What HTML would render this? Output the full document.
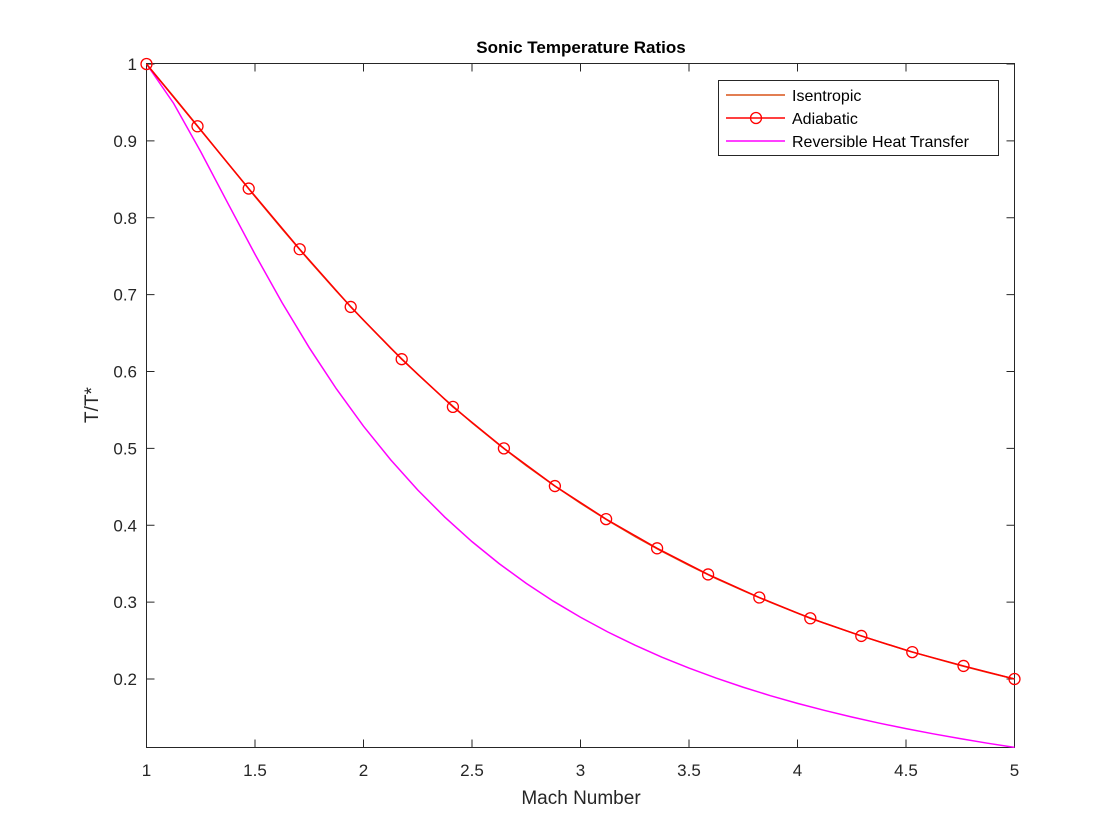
<!DOCTYPE html>
<html><head><meta charset="utf-8"><style>
body{margin:0;background:#fff;}
svg{display:block;font-family:"Liberation Sans",Helvetica,Arial,sans-serif;}
</style></head><body>
<svg id="chart" width="1120" height="840" viewBox="0 0 1120 840" xmlns="http://www.w3.org/2000/svg">
<rect width="1120" height="840" fill="#fff"/>
<g id="plot"></g>
</svg>
<script>
const machLine = [1,1.125,1.25,1.375,1.5,1.625,1.75,1.875,2,2.125,2.25,2.375,2.5,2.625,2.75,2.875,3,3.125,3.25,3.375,3.5,3.625,3.75,3.875,4,4.125,4.25,4.375,4.5,4.625,4.75,4.875,5];
const isentropic = [1,0.9576,0.9143,0.8707,0.8276,0.7853,0.7442,0.7046,0.6667,0.6305,0.5963,0.5639,0.5333,0.5046,0.4776,0.4523,0.4286,0.4063,0.3855,0.3661,0.3478,0.3307,0.3148,0.2998,0.2857,0.2725,0.2602,0.2485,0.2376,0.2274,0.2177,0.2086,0.2];
const rayleigh = [1,0.9488,0.8858,0.8188,0.7525,0.6895,0.6310,0.5774,0.5289,0.4852,0.4458,0.4105,0.3787,0.3501,0.3244,0.3012,0.2803,0.2613,0.2441,0.2284,0.2142,0.2012,0.1893,0.1783,0.1683,0.1591,0.1506,0.1427,0.1354,0.1287,0.1224,0.1165,0.1111];
const machMarkers = [1,1.235,1.471,1.706,1.941,2.176,2.412,2.647,2.882,3.118,3.353,3.588,3.824,4.059,4.294,4.529,4.765,5];
const adiabatic = [1,0.919,0.838,0.759,0.684,0.616,0.554,0.500,0.451,0.408,0.370,0.336,0.306,0.279,0.256,0.235,0.217,0.200];
const xTicks = [1,1.5,2,2.5,3,3.5,4,4.5,5];
const xTickLabels = ["1","1.5","2","2.5","3","3.5","4","4.5","5"];
const yTicks = [0.2,0.3,0.4,0.5,0.6,0.7,0.8,0.9,1];
const yTickLabels = ["0.2","0.3","0.4","0.5","0.6","0.7","0.8","0.9","1"];

const L=146.5,R=1014.5,T=63.5,B=747.5;
const xS=v=>L+(v-1)/4*(R-L);
const yS=v=>64+(1-v)/0.8*615;
const NS="http://www.w3.org/2000/svg";
const g=document.getElementById('plot');
function mk(tag,attrs,parent){const e=document.createElementNS(NS,tag);for(const k in attrs)e.setAttribute(k,attrs[k]);(parent||g).appendChild(e);return e;}

const box=mk('rect',{x:L,y:T,width:R-L,height:B-T,fill:'#fff',stroke:'#262626','stroke-width':1});



xTicks.forEach((t,i)=>{
  const x=xS(t);
  const a=mk('line',{x1:x,y1:B,x2:x,y2:B-8,stroke:'#262626'});
  
  
  const b=mk('line',{x1:x,y1:T,x2:x,y2:T+8,stroke:'#262626'});
  
  
  const tx=mk('text',{x:x,y:776,'text-anchor':'middle','font-size':17,fill:'#262626'});
  tx.textContent=xTickLabels[i];
  
  
});
yTicks.forEach((t,i)=>{
  const y=yS(t);
  const a=mk('line',{x1:L,y1:y,x2:L+8,y2:y,stroke:'#262626'});
  
  
  const b=mk('line',{x1:R,y1:y,x2:R-8,y2:y,stroke:'#262626'});
  
  
  const tx=mk('text',{x:137,y:y+6,'text-anchor':'end','font-size':17,fill:'#262626'});
  tx.textContent=yTickLabels[i];
  
  
});

function line(xs,ys,color,name){
  const d=xs.map((v,i)=>(i?'L':'M')+xS(v).toFixed(2)+','+yS(ys[i]).toFixed(2)).join('');
  const p=mk('path',{d:d,fill:'none',stroke:color,'stroke-width':1.5});
  
  
}
line(machLine,rayleigh,'#FF00FF','reversible-heat-transfer-line');
line(machLine,isentropic,'#D95319','isentropic-line');
line(machMarkers,adiabatic,'#FF0000','adiabatic-line');
machMarkers.forEach((m,i)=>{
  const c=mk('circle',{cx:xS(m),cy:yS(adiabatic[i]),r:5.5,fill:'none',stroke:'#FF0000','stroke-width':1.3});
  
  
});

const title=mk('text',{x:581,y:53,'text-anchor':'middle','font-size':17,'font-weight':'bold',fill:'#000'});
title.textContent='Sonic Temperature Ratios';


const xl=mk('text',{x:581,y:804,'text-anchor':'middle','font-size':19,fill:'#262626'});
xl.textContent='Mach Number';


const yl=mk('text',{x:0,y:0,'text-anchor':'middle','font-size':19,fill:'#262626',transform:'translate(98,405) rotate(-90)'});
yl.textContent='T/T*';



const lg=mk('g',{});


const lb=mk('rect',{x:718.5,y:80.5,width:280,height:75,fill:'#fff',stroke:'#262626','stroke-width':1},lg);


const entries=[['Isentropic','#D95319',false],['Adiabatic','#FF0000',true],['Reversible Heat Transfer','#FF00FF',false]];
entries.forEach((e,i)=>{
  const y=95+i*23;
  const ln=mk('line',{x1:726,y1:y,x2:785,y2:y,stroke:e[1],'stroke-width':1.5},lg);
  
  
  if(e[2]){
    const c=mk('circle',{cx:756,cy:y,r:5.5,fill:'none',stroke:e[1],'stroke-width':1.3},lg);
    
    
  }
  const t=mk('text',{x:792,y:y+6,'font-size':16,fill:'#000'},lg);
  t.textContent=e[0];
  
  
});
</script>
</body></html>
